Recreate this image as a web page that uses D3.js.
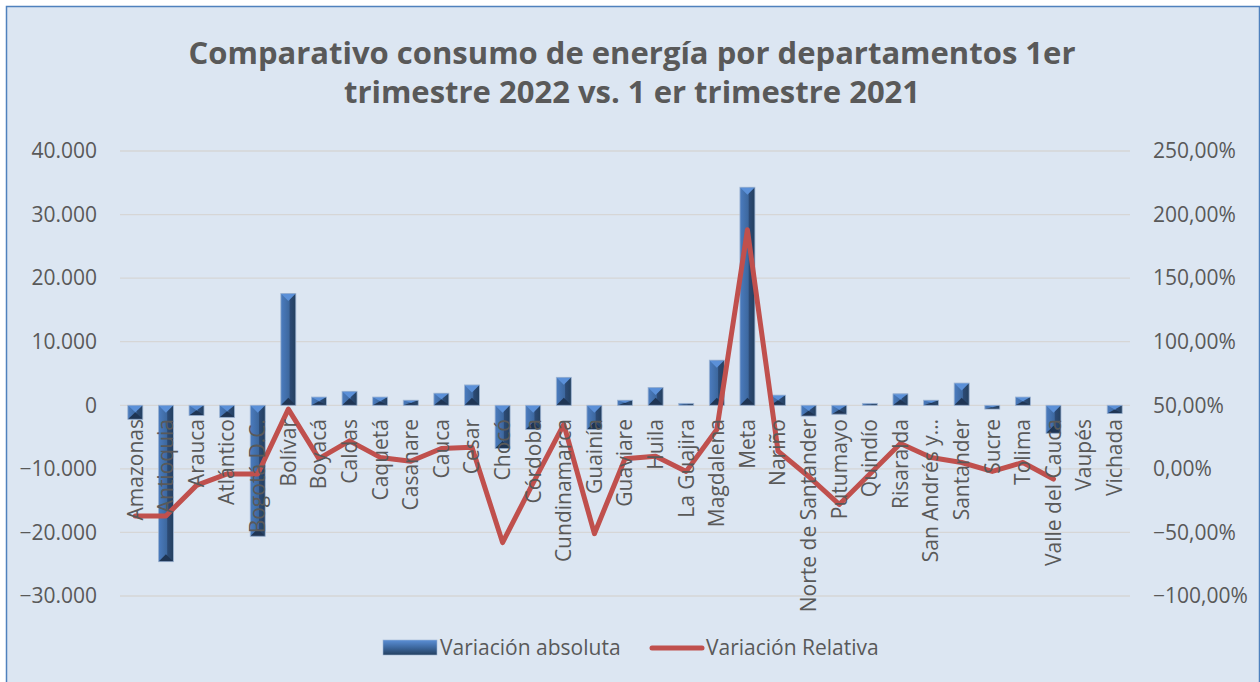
<!DOCTYPE html>
<html>
<head>
<meta charset="utf-8">
<script src="https://cdn.jsdelivr.net/npm/d3@7"></script>
<style>
  body { margin: 0; background: #fff; }
  svg text { font-family: "Open Sans", sans-serif; fill: #595959; }
</style>
</head>
<body>
<div id="chart"></div>
<script>
var categories = ["Amazonas", "Antioquia", "Arauca", "Atlántico", "Bogotá D.C.", "Bolívar", "Boyacá",
  "Caldas", "Caquetá", "Casanare", "Cauca", "Cesar", "Chocó", "Córdoba", "Cundinamarca", "Guainía",
  "Guaviare", "Huila", "La Guajira", "Magdalena", "Meta", "Nariño", "Norte de Santander", "Putumayo",
  "Quindío", "Risaralda", "San Andrés y…", "Santander", "Sucre", "Tolima", "Valle del Cauca", "Vaupés", "Vichada"];

// Variación absoluta
var absVals = [-2200, -24600, -1600, -1900, -20600, 17600, 1300, 2200, 1300, 800, 1900, 3200, -6800, -3800,
  4400, -3800, 800, 2800, 300, 7100, 34300, 1600, -1700, -1400, 300, 1800, 800, 3500, -600, 1300, -4400, 0, -1300];

// Variación Relativa (%)
var relVals = [-37, -37, -13, -4, -4, 47, 8, 22, 9, 6, 16, 17, -58, -11, 35, -51, 8, 10, -2, 31, 188, 14,
  -6, -28, -4, 20, 9, 5, -2, 5, -8, null, null];

var leftTicks = [-30000, -20000, -10000, 0, 10000, 20000, 30000, 40000];
var rightTicks = [-100, -50, 0, 50, 100, 150, 200, 250];
var titleLines = ["Comparativo consumo de energía por departamentos 1er", "trimestre 2022 vs. 1 er trimestre 2021"];

var W = 1260, H = 682;
var svg = d3.select("#chart").append("svg")
  .attr("width", W).attr("height", H);

svg.append("rect").attr("x", 0).attr("y", 0).attr("width", W).attr("height", H).attr("fill", "#fff");
svg.append("rect")
  .attr("x", 6.5).attr("y", 6.5).attr("width", W - 7).attr("height", H)
  .attr("fill", "#dce6f2").attr("stroke", "#4f81bd").attr("stroke-width", 1.5);

var x = d3.scaleBand().domain(categories).range([120, 1130]).paddingInner(0.51).paddingOuter(0.255);
var yL = d3.scaleLinear().domain([-30000, 40000]).range([596, 151]);
var yR = d3.scaleLinear().domain([-100, 250]).range([596, 151]);

var fmtL = function(d) { return d3.format(",")(d).replace(/,/g, "."); };
var fmtR = function(d) { return d3.format(".2f")(d).replace(".", ",") + "%"; };

// title
svg.selectAll(".title").data(titleLines).enter().append("text")
  .attr("x", 632).attr("y", function(d, i) { return 64 + i * 39; })
  .attr("text-anchor", "middle")
  .style("font-size", "31px").style("font-weight", "bold")
  .text(function(d) { return d; });

// grid
svg.append("g").selectAll("line").data(leftTicks).enter().append("line")
  .attr("x1", 120).attr("x2", 1130)
  .attr("y1", function(d) { return yL(d); }).attr("y2", function(d) { return yL(d); })
  .attr("stroke", "#d6d6d6").attr("stroke-width", 1.3);

// left axis
var axL = svg.append("g").attr("transform", "translate(110,0)")
  .call(d3.axisLeft(yL).tickValues(leftTicks).tickFormat(fmtL).tickSize(0).tickPadding(13));
axL.select(".domain").remove();
axL.selectAll("text").style("font-size", "21px").attr("fill", "#595959");

// right axis
var axR = svg.append("g").attr("transform", "translate(1140,0)")
  .call(d3.axisRight(yR).tickValues(rightTicks).tickFormat(fmtR).tickSize(0).tickPadding(13));
axR.select(".domain").remove();
axR.selectAll("text").style("font-size", "21px").attr("fill", "#595959");

// bars with bevel look
var defs = svg.append("defs");
var g1 = defs.append("linearGradient").attr("id", "barGrad").attr("x1", "0").attr("x2", "1").attr("y1", "0").attr("y2", "0");
g1.append("stop").attr("offset", "0").attr("stop-color", "#4b7cbf");
g1.append("stop").attr("offset", "0.55").attr("stop-color", "#3d689f");
g1.append("stop").attr("offset", "0.62").attr("stop-color", "#2c4a74");
g1.append("stop").attr("offset", "1").attr("stop-color", "#24405f");
var g2 = defs.append("linearGradient").attr("id", "legGrad").attr("x1", "0").attr("x2", "0").attr("y1", "0").attr("y2", "1");
g2.append("stop").attr("offset", "0").attr("stop-color", "#5b8fd6");
g2.append("stop").attr("offset", "0.5").attr("stop-color", "#3d689f");
g2.append("stop").attr("offset", "1").attr("stop-color", "#24405f");

var bars = svg.append("g").selectAll("g").data(categories.map(function(c, i) { return { c: c, v: absVals[i] }; }))
  .enter().filter(function(d) { return d.v !== 0; }).append("g");

bars.each(function(d) {
  var g = d3.select(this);
  var x0 = x(d.c), w = x.bandwidth(), x1 = x0 + w, xc = x0 + w / 2;
  var yt = Math.min(yL(d.v), yL(0)), yb = Math.max(yL(d.v), yL(0));
  var h = yb - yt, b = Math.min(w / 2, h / 2);
  g.append("rect").attr("x", x0).attr("y", yt).attr("width", w).attr("height", h)
    .attr("fill", "url(#barGrad)");
  g.append("path").attr("d", "M" + x0 + "," + yb + "L" + x1 + "," + yb + "L" + xc + "," + (yb - b) + "Z")
    .attr("fill", "#1f3554");
  g.append("path").attr("d", "M" + x0 + "," + yt + "L" + x1 + "," + yt + "L" + xc + "," + (yt + b) + "Z")
    .attr("fill", "#5b90d8");
  g.append("rect").attr("x", x0).attr("y", yt).attr("width", w).attr("height", h)
    .attr("fill", "none").attr("stroke", "#9fb5d3").attr("stroke-width", 0.8);
});

// line
var line = d3.line()
  .defined(function(d) { return d.v !== null; })
  .x(function(d) { return x(d.c) + x.bandwidth() / 2; })
  .y(function(d) { return yR(d.v); });
svg.append("path")
  .datum(categories.map(function(c, i) { return { c: c, v: relVals[i] }; }))
  .attr("d", line)
  .attr("fill", "none").attr("stroke", "#c0504d").attr("stroke-width", 5)
  .attr("stroke-linejoin", "round").attr("stroke-linecap", "round");

// category labels
svg.append("g").selectAll("text").data(categories).enter().append("text")
  .attr("transform", function(d) { return "translate(" + (x(d) + x.bandwidth() / 2) + ",419) rotate(-90)"; })
  .attr("text-anchor", "end").attr("dy", "0.35em")
  .style("font-size", "21px")
  .text(function(d) { return d; });

// legend
var leg = svg.append("g");
leg.append("rect").attr("x", 383).attr("y", 640).attr("width", 54).attr("height", 15)
  .attr("fill", "url(#legGrad)").attr("stroke", "#9fb5d3").attr("stroke-width", 0.6);
leg.append("text").attr("x", 440).attr("y", 648).attr("dy", "0.35em").style("font-size", "21px")
  .text("Variación absoluta");
leg.append("line").attr("x1", 652).attr("x2", 702).attr("y1", 648).attr("y2", 648)
  .attr("stroke", "#c0504d").attr("stroke-width", 5).attr("stroke-linecap", "round");
leg.append("text").attr("x", 706).attr("y", 648).attr("dy", "0.35em").style("font-size", "21px")
  .text("Variación Relativa");
</script>
</body>
</html>
